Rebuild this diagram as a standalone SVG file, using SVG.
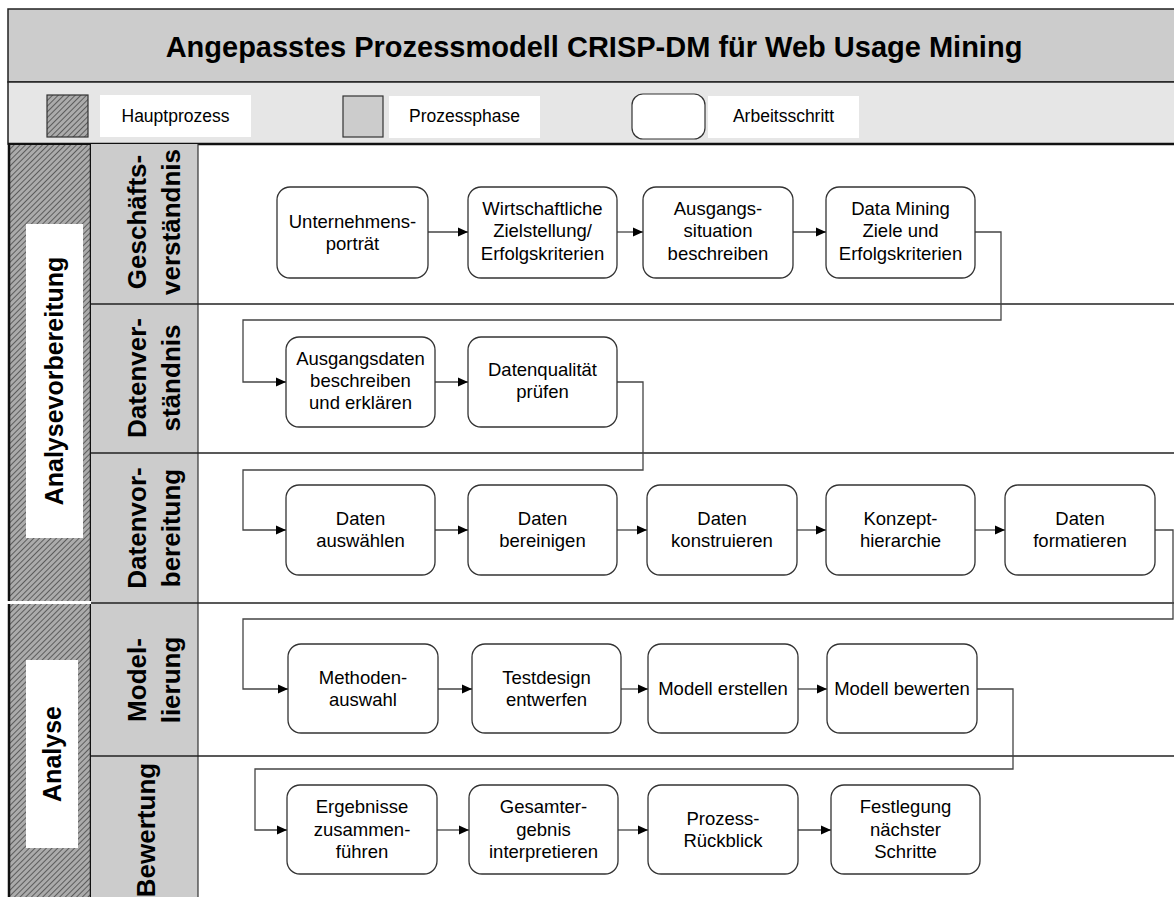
<svg xmlns="http://www.w3.org/2000/svg" width="1174" height="897" viewBox="0 0 1174 897">
<defs>
<pattern id="hatch" width="4" height="4" patternUnits="userSpaceOnUse" patternTransform="rotate(45)">
<rect width="4" height="4" fill="#ababab"/>
<line x1="0" y1="0" x2="0" y2="4" stroke="#262626" stroke-width="1.2"/>
</pattern>
<marker id="arr" viewBox="0 0 10 10" refX="10" refY="5" markerWidth="10" markerHeight="10" markerUnits="userSpaceOnUse" orient="auto">
<path d="M0,0.5 L10,5 L0,9.5 z" fill="#000"/>
</marker>
<style>
.node{fill:#fff;stroke:#333;stroke-width:1.3}
.t{font-family:"Liberation Sans",Arial,sans-serif;font-size:18.5px;fill:#000;text-anchor:middle}
.lg{font-family:"Liberation Sans",Arial,sans-serif;font-size:17.5px;fill:#000;text-anchor:middle}
.ph{font-family:"Liberation Sans",Arial,sans-serif;font-size:26px;font-weight:bold;fill:#000;text-anchor:middle}
.title{font-family:"Liberation Sans",Arial,sans-serif;font-size:29px;font-weight:bold;fill:#000;text-anchor:middle}
.con{fill:none;stroke:#444;stroke-width:1.3;marker-end:url(#arr)}
.grid{stroke:#222;stroke-width:1.5;fill:none}
</style>
</defs>
<rect width="1174" height="897" fill="#fff"/>

<g id="header">
<rect x="8" y="9" width="1172" height="73" fill="#cccccc" stroke="#222" stroke-width="1.5"/>
<text class="title" x="594" y="57">Angepasstes Prozessmodell CRISP-DM für Web Usage Mining</text>
</g>

<g id="legend">
<rect x="8" y="82" width="1172" height="62" fill="#e6e6e6" stroke="#222" stroke-width="1.5"/>
<line x1="8" y1="144" x2="1174" y2="144" stroke="#111" stroke-width="2.5"/>
<rect x="47" y="95" width="41" height="42" fill="url(#hatch)" stroke="#333" stroke-width="1.2"/>
<rect x="100" y="95" width="151" height="42" fill="#fff"/>
<text class="lg" x="175.5" y="122">Hauptprozess</text>
<rect x="343" y="96" width="40" height="41" fill="#cccccc" stroke="#333" stroke-width="1.2"/>
<rect x="389" y="96" width="151" height="42" fill="#fff"/>
<text class="lg" x="464.5" y="122">Prozessphase</text>
<rect x="632" y="94" width="73" height="45" rx="11" fill="#fff" stroke="#333" stroke-width="1.2"/>
<rect x="708" y="96" width="151" height="42" fill="#fff"/>
<text class="lg" x="783.5" y="122">Arbeitsschritt</text>
</g>

<g id="hauptprozesse">
<rect x="8" y="145" width="83" height="456" fill="url(#hatch)"/>
<rect x="8" y="604" width="83" height="293" fill="url(#hatch)"/>
<line x1="8" y1="602.5" x2="91" y2="602.5" stroke="#fff" stroke-width="2.5"/>
<line x1="9" y1="144" x2="9" y2="601" stroke="#111" stroke-width="2.5"/>
<line x1="9" y1="604" x2="9" y2="897" stroke="#111" stroke-width="2.5"/>
<line x1="91" y1="144" x2="91" y2="601" stroke="#111" stroke-width="2.5"/>
<line x1="91" y1="604" x2="91" y2="897" stroke="#111" stroke-width="2.5"/>
<g id="analysevorbereitung">
<rect x="26" y="224" width="57" height="314" fill="#fff"/>
<text class="ph" transform="translate(54,381) rotate(-90)" x="0" y="9" style="font-size:25px">Analysevorbereitung</text>
</g>
<g id="analyse">
<rect x="26" y="660" width="52" height="188" fill="#fff"/>
<text class="ph" transform="translate(52,754) rotate(-90)" x="0" y="9" style="font-size:25px">Analyse</text>
</g>
</g>

<g id="phasen">
<rect x="91" y="144" width="107" height="753" fill="#cccccc"/>
<line x1="198" y1="144" x2="198" y2="897" stroke="#333" stroke-width="1.2"/>
<line class="grid" x1="91" y1="304" x2="1174" y2="304"/>
<line class="grid" x1="91" y1="453" x2="1174" y2="453"/>
<line class="grid" x1="91" y1="603" x2="1174" y2="603"/>
<line class="grid" x1="91" y1="756" x2="1174" y2="756"/>
<g id="ph-geschaeft"><text class="ph" transform="translate(0,222) rotate(-90)"><tspan x="0" y="146">Geschäfts-</tspan><tspan x="0" y="180">verständnis</tspan></text></g>
<g id="ph-datenverst"><text class="ph" transform="translate(0,378) rotate(-90)"><tspan x="0" y="146">Datenver-</tspan><tspan x="0" y="180">ständnis</tspan></text></g>
<g id="ph-datenvorb"><text class="ph" transform="translate(0,528) rotate(-90)"><tspan x="0" y="146">Datenvor-</tspan><tspan x="0" y="180">bereitung</tspan></text></g>
<g id="ph-model"><text class="ph" transform="translate(0,680) rotate(-90)"><tspan x="0" y="146">Model-</tspan><tspan x="0" y="180">lierung</tspan></text></g>
<g id="ph-bewertung"><text class="ph" transform="translate(0,830) rotate(-90)"><tspan x="0" y="155">Bewertung</tspan></text></g>
</g>

<g id="connectors">
<path class="con" d="M428,232 H468"/>
<path class="con" d="M617,232 H643"/>
<path class="con" d="M793,232 H826"/>
<path class="con" d="M975,232 H1001 V320 H243 V382 H286"/>
<path class="con" d="M435,382 H468"/>
<path class="con" d="M617,382 H643 V470 H243 V530 H286"/>
<path class="con" d="M435,530 H468"/>
<path class="con" d="M617,530 H647"/>
<path class="con" d="M797,530 H826"/>
<path class="con" d="M975,530 H1005"/>
<path class="con" d="M1155,530 H1173 V619 H243 V689 H288"/>
<path class="con" d="M438,689 H472"/>
<path class="con" d="M621,689 H648"/>
<path class="con" d="M798,689 H827"/>
<path class="con" d="M977,689 H1013 V769 H255 V830 H287"/>
<path class="con" d="M437,830 H469"/>
<path class="con" d="M618,830 H648"/>
<path class="con" d="M798,830 H831"/>
</g>

<g id="n1"><rect class="node" x="277" y="187" width="151" height="91" rx="13"/><text class="t"><tspan x="352.5" y="228">Unternehmens-</tspan><tspan x="352.5" y="250">porträt</tspan></text></g>
<g id="n2"><rect class="node" x="468" y="187" width="149" height="91" rx="13"/><text class="t"><tspan x="542.5" y="215">Wirtschaftliche</tspan><tspan x="542.5" y="237">Zielstellung/</tspan><tspan x="542.5" y="260">Erfolgskriterien</tspan></text></g>
<g id="n3"><rect class="node" x="643" y="187" width="150" height="91" rx="13"/><text class="t"><tspan x="718" y="215">Ausgangs-</tspan><tspan x="718" y="237">situation</tspan><tspan x="718" y="260">beschreiben</tspan></text></g>
<g id="n4"><rect class="node" x="826" y="187" width="149" height="91" rx="13"/><text class="t"><tspan x="900.5" y="215">Data Mining</tspan><tspan x="900.5" y="237">Ziele und</tspan><tspan x="900.5" y="260">Erfolgskriterien</tspan></text></g>

<g id="n5"><rect class="node" x="286" y="337" width="149" height="90" rx="13"/><text class="t"><tspan x="360.5" y="365">Ausgangsdaten</tspan><tspan x="360.5" y="387">beschreiben</tspan><tspan x="360.5" y="409">und erklären</tspan></text></g>
<g id="n6"><rect class="node" x="468" y="337" width="149" height="90" rx="13"/><text class="t"><tspan x="542.5" y="376">Datenqualität</tspan><tspan x="542.5" y="398">prüfen</tspan></text></g>

<g id="n7"><rect class="node" x="286" y="485" width="149" height="90" rx="13"/><text class="t"><tspan x="360.5" y="525">Daten</tspan><tspan x="360.5" y="547">auswählen</tspan></text></g>
<g id="n8"><rect class="node" x="468" y="485" width="149" height="90" rx="13"/><text class="t"><tspan x="542.5" y="525">Daten</tspan><tspan x="542.5" y="547">bereinigen</tspan></text></g>
<g id="n9"><rect class="node" x="647" y="485" width="150" height="90" rx="13"/><text class="t"><tspan x="722" y="525">Daten</tspan><tspan x="722" y="547">konstruieren</tspan></text></g>
<g id="n10"><rect class="node" x="826" y="485" width="149" height="90" rx="13"/><text class="t"><tspan x="900.5" y="525">Konzept-</tspan><tspan x="900.5" y="547">hierarchie</tspan></text></g>
<g id="n11"><rect class="node" x="1005" y="485" width="150" height="90" rx="13"/><text class="t"><tspan x="1080" y="525">Daten</tspan><tspan x="1080" y="547">formatieren</tspan></text></g>

<g id="n12"><rect class="node" x="288" y="644" width="150" height="89" rx="13"/><text class="t"><tspan x="363" y="684">Methoden-</tspan><tspan x="363" y="706">auswahl</tspan></text></g>
<g id="n13"><rect class="node" x="472" y="644" width="149" height="89" rx="13"/><text class="t"><tspan x="546.5" y="684">Testdesign</tspan><tspan x="546.5" y="706">entwerfen</tspan></text></g>
<g id="n14"><rect class="node" x="648" y="644" width="150" height="89" rx="13"/><text class="t" x="723" y="695">Modell erstellen</text></g>
<g id="n15"><rect class="node" x="827" y="644" width="150" height="89" rx="13"/><text class="t" x="902" y="695">Modell bewerten</text></g>

<g id="n16"><rect class="node" x="287" y="785" width="150" height="89" rx="13"/><text class="t"><tspan x="362" y="813">Ergebnisse</tspan><tspan x="362" y="836">zusammen-</tspan><tspan x="362" y="858">führen</tspan></text></g>
<g id="n17"><rect class="node" x="469" y="785" width="149" height="89" rx="13"/><text class="t"><tspan x="543.5" y="813">Gesamter-</tspan><tspan x="543.5" y="836">gebnis</tspan><tspan x="543.5" y="858">interpretieren</tspan></text></g>
<g id="n18"><rect class="node" x="648" y="785" width="150" height="89" rx="13"/><text class="t"><tspan x="723" y="825">Prozess-</tspan><tspan x="723" y="847">Rückblick</tspan></text></g>
<g id="n19"><rect class="node" x="831" y="785" width="149" height="89" rx="13"/><text class="t"><tspan x="905.5" y="813">Festlegung</tspan><tspan x="905.5" y="836">nächster</tspan><tspan x="905.5" y="858">Schritte</tspan></text></g>
</svg>
